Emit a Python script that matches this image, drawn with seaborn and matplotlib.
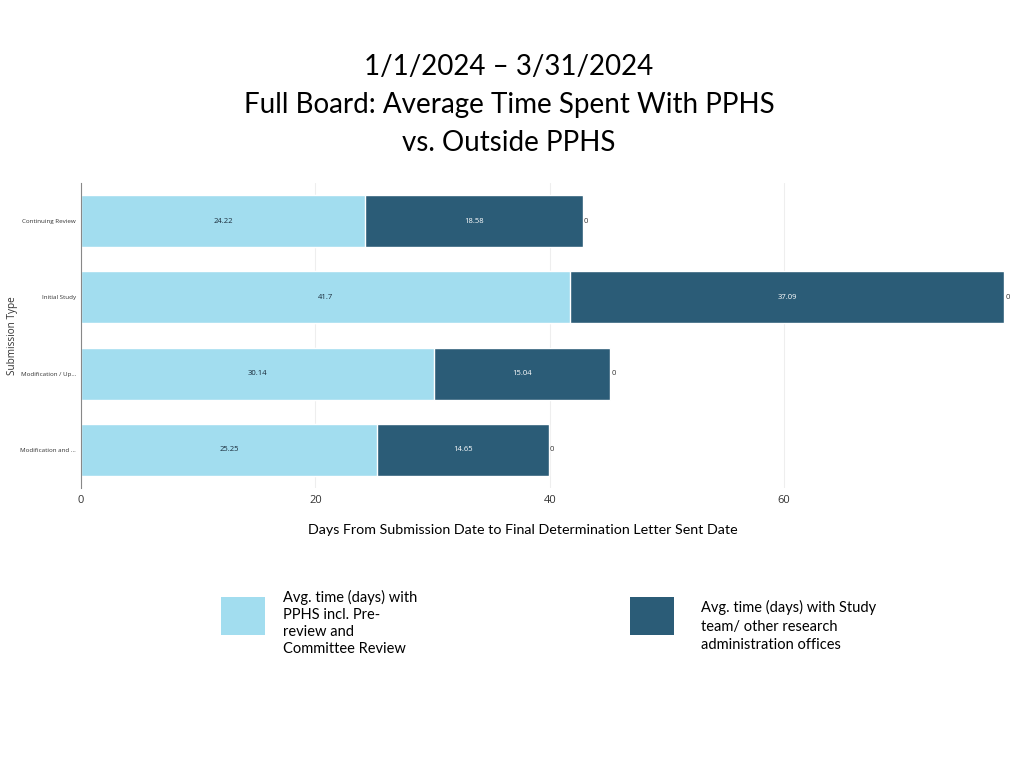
import pandas as pd
import matplotlib
matplotlib.use("Agg")
import matplotlib.pyplot as plt
import seaborn as sns
from matplotlib.patches import Rectangle

# Dados
categorias = ["Continuing Review", "Initial Study", "Modification / Up...", "Modification and ..."]
tempo_pphs = [24.22, 41.7, 30.14, 25.25]
tempo_fora = [18.58, 37.09, 15.04, 14.65]
tempo_outro = [0, 0, 0, 0]

titulo = "1/1/2024 \u2013 3/31/2024\nFull Board: Average Time Spent With PPHS\nvs. Outside PPHS"
legenda_pphs = "Avg. time (days) with\nPPHS incl. Pre-\nreview and\nCommittee Review"
legenda_fora = "Avg. time (days) with Study\nteam/ other research\nadministration offices"

cor_clara = "#A2DDEF"
cor_escura = "#2B5C77"

df = pd.DataFrame({
    "Categoria": categorias,
    "PPHS": tempo_pphs,
    "Fora": tempo_fora,
    "Outro": tempo_outro,
})
df["Total"] = df["PPHS"] + df["Fora"] + df["Outro"]

sns.set_style("white")
plt.rcParams["font.family"] = ["Lato", "DejaVu Sans"]

fig = plt.figure(figsize=(10.24, 7.68), dpi=100)
ax = fig.add_axes([81 / 1024, 1 - 488 / 768, 934 / 1024, 305 / 768])

# Barras empilhadas: total (escuro) por baixo, PPHS (claro) por cima
sns.barplot(data=df, x="Total", y="Categoria", color=cor_escura, orient="h",
            width=0.68, ax=ax, saturation=1)
sns.barplot(data=df, x="PPHS", y="Categoria", color=cor_clara, orient="h",
            width=0.68, ax=ax, saturation=1)

for i, row in df.iterrows():
    ax.text(row["PPHS"] / 2, i, f"{row['PPHS']:g}", ha="center", va="center",
            fontsize=5.5, color="#1a2b3a", family="Open Sans")
    ax.text(row["PPHS"] + row["Fora"] / 2, i, f"{row['Fora']:g}", ha="center",
            va="center", fontsize=5.5, color="white", family="Open Sans")
    ax.text(row["Total"] + 0.1, i, f"{row['Outro']:g}", ha="left",
            va="center", fontsize=5.5, color="#333333", family="Open Sans")

ax.set_xlim(0, 79.7)
ax.set_ylim(3.5, -0.5)
ax.set_xticks([0, 20, 40, 60])
ax.xaxis.grid(True, color="#eeeeee", linewidth=0.8)
ax.set_axisbelow(True)
for lado in ["top", "right", "bottom"]:
    ax.spines[lado].set_visible(False)
ax.spines["left"].set_color("#888888")
ax.spines["left"].set_linewidth(0.8)

ax.set_yticks(range(len(categorias)))
ax.set_yticklabels(categorias, fontsize=4.5, color="#333333", family="Open Sans")
ax.set_yticks([-0.5, 0.5, 1.5, 2.5, 3.5], minor=True)
ax.tick_params(axis="y", which="major", length=0, pad=3.5)
ax.tick_params(axis="y", which="minor", length=4, width=0.8, color="#888888")
ax.tick_params(axis="x", length=0, labelsize=8, labelcolor="#333333", pad=5)
for t in ax.get_xticklabels():
    t.set_family("Open Sans")

ax.set_xlabel("")
ax.set_ylabel("Submission Type", fontsize=7.2, color="#333333", family="Open Sans")
ax.yaxis.set_label_coords(-63 / 934, 0.5)

fig.text(509 / 1024, 1 - 105 / 768, titulo, ha="center", va="center",
         fontsize=20, linespacing=1.57, color="black")
fig.text(523 / 1024, 1 - 530 / 768,
         "Days From Submission Date to Final Determination Letter Sent Date",
         ha="center", va="center", fontsize=10.3, color="black")

# Legenda desenhada na figura
fig.patches.append(Rectangle((221 / 1024, 1 - 635 / 768), 44 / 1024, 38 / 768,
                             transform=fig.transFigure, facecolor=cor_clara,
                             edgecolor="none"))
fig.patches.append(Rectangle((630 / 1024, 1 - 635 / 768), 44 / 1024, 38 / 768,
                             transform=fig.transFigure, facecolor=cor_escura,
                             edgecolor="none"))
fig.text(283 / 1024, 1 - 623 / 768, legenda_pphs, ha="left", va="center",
         fontsize=10.5, linespacing=1.27, color="black")
fig.text(701 / 1024, 1 - 626 / 768, legenda_fora, ha="left", va="center",
         fontsize=10.5, linespacing=1.41, color="black")

plt.savefig("out.png", dpi=100)
